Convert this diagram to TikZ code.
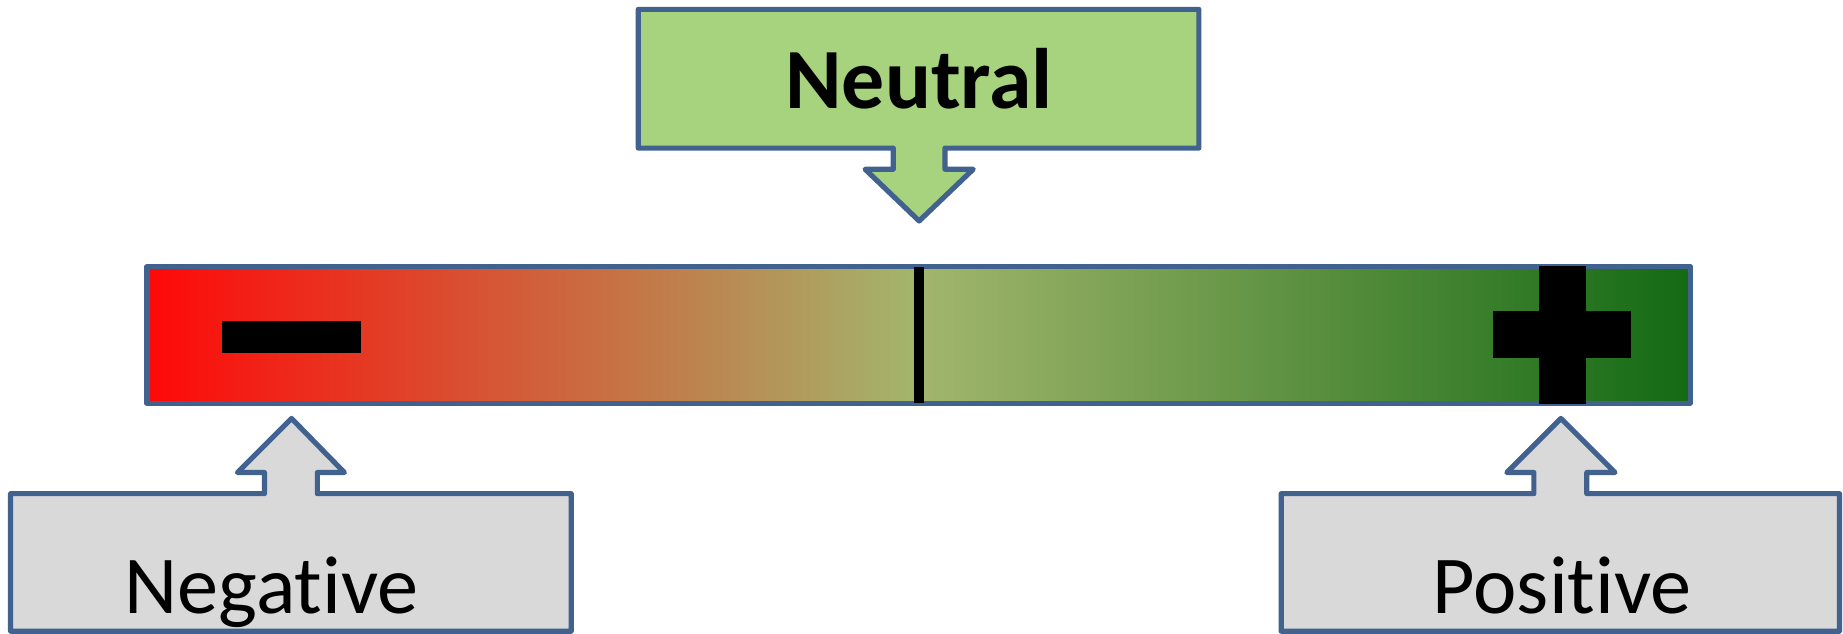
\documentclass[tikz,border=0pt]{standalone}
\usepackage{fontspec}
\setmainfont[RawFeature=-liga]{Carlito}
\definecolor{edgeblue}{HTML}{41618F}
\definecolor{barL}{HTML}{FF0808}
\definecolor{barM}{HTML}{A2B66C}
\definecolor{barR}{HTML}{146A14}
\definecolor{neutralfill}{HTML}{A7D37E}
\definecolor{greyfill}{HTML}{D9D9D9}
\begin{document}
\begin{tikzpicture}[x=0.5pt,y=-0.5pt,
  callout/.style={draw=edgeblue, line width=2.2pt, line join=round},
  mark black/.style={fill=black},
  labeltext/.style={anchor=base, font=\fontsize{35}{40}\selectfont},
  boldtext/.style={anchor=base, font=\fontsize{36.5}{40}\selectfont\bfseries}]
\useasboundingbox (0,0) rectangle (1568,539.4);
% gradient bar
\shade[left color=barL, right color=barR, middle color=barM] (125,227) rectangle (1438,343);
\draw[edgeblue, line width=2.2pt, line join=round] (125,227) rectangle (1438,343);
% minus, middle tick, plus
\fill[mark black] (189,273) rectangle (307,300);
\fill[mark black] (777.5,227) rectangle (786.5,343);
\fill[mark black] (1309,226) rectangle (1349,344);
\fill[mark black] (1270,265) rectangle (1388,305);
% neutral callout
\draw[callout, fill=neutralfill] (543,8) -- (1020,8) -- (1020,126) -- (804,126) -- (804,144) -- (828,144) -- (782,188) -- (736,144) -- (760,144) -- (760,126) -- (543,126) -- cycle;
\node[boldtext] (neutral) at (782,92) {Neutral};
% negative callout
\draw[callout, fill=greyfill] (9,420) -- (225,420) -- (225,402) -- (202,402) -- (248,356) -- (293,402) -- (270,402) -- (270,420) -- (486,420) -- (486,537) -- (9,537) -- cycle;
\node[labeltext] (negative) at (231,522) {Negative};
% positive callout
\draw[callout, fill=greyfill] (1090,420) -- (1305,420) -- (1305,402) -- (1282,402) -- (1328,356) -- (1374,402) -- (1350,402) -- (1350,420) -- (1565,420) -- (1565,537) -- (1090,537) -- cycle;
\node[labeltext] (positive) at (1329,522) {Positive};
\end{tikzpicture}
\end{document}
